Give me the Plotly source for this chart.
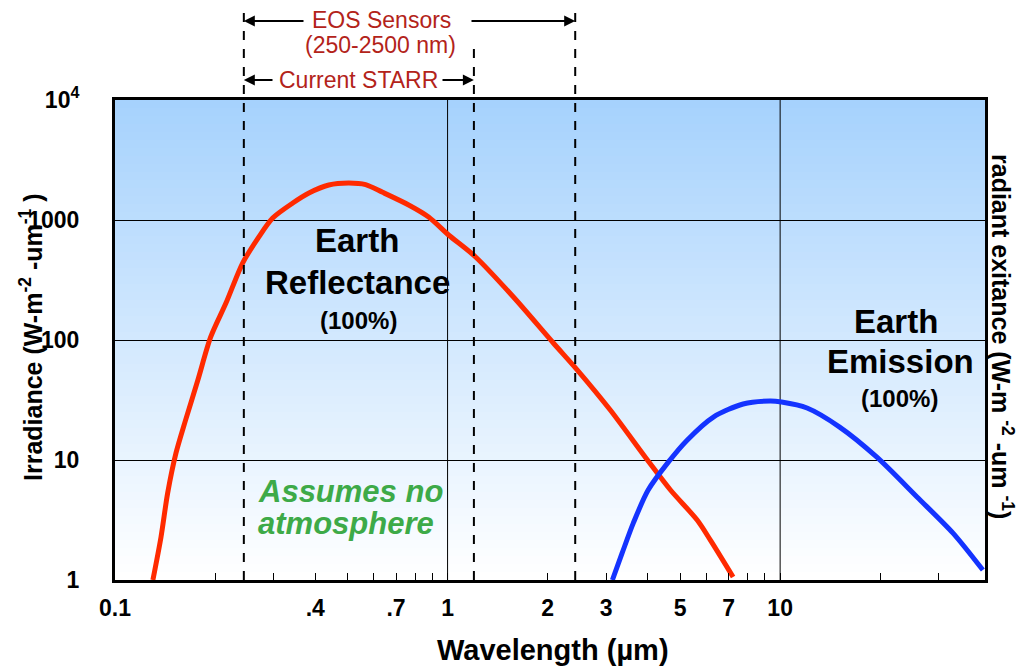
import math
import plotly.graph_objects as go

# ---------------- data ----------------
red_x = [0.130, 0.1375, 0.144, 0.1525, 0.163, 0.1775, 0.194, 0.2156, 0.242, 0.2705,
         0.298, 0.3425, 0.383, 0.4395, 0.504, 0.567, 0.638, 0.764, 0.877, 1.007,
         1.214, 1.578, 2.08, 2.456, 3.085, 3.99, 4.68, 5.63, 6.17, 7.22]
red_y = [1.0, 2.28, 5.31, 11.4, 21.5, 46.4, 106, 203, 438, 721,
         1039, 1386, 1679, 1957, 2033, 1970, 1700, 1334, 1059, 750,
         492, 228, 94.4, 56.2, 26.1, 10, 5.62, 3.16, 2.15, 1.06]

blue_x = [3.13, 3.35, 3.62, 4.01, 4.61, 5.26, 6.30, 7.74, 9.33, 10.1,
          12.05, 15.1, 19.5, 25.8, 33.1, 40.7]
blue_y = [1.0, 1.68, 2.99, 5.62, 9.6, 14.7, 22.8, 29.3, 31.0, 30.4,
          27.1, 18.8, 10.6, 4.92, 2.46, 1.21]

x_tick_vals = [0.1, 0.2, 0.3, 0.4, 0.5, 0.6, 0.7, 0.8, 0.9, 1,
               2, 3, 4, 5, 6, 7, 8, 9, 10, 20, 30]
x_tick_text = ["0.1", "", "", ".4", "", "", ".7", "", "", "1",
               "2", "3", "", "5", "", "7", "", "", "10", "", ""]
y_tick_vals = [1, 10, 100, 1000, 10000]
y_tick_text = ["1", "10", "100", "1000", "10<sup>4</sup>"]

sensor_lines = [0.244, 1.2, 2.42]     # EOS start, STARR end, EOS end (µm)
grid_x = [1, 10]

x_range_log = [-1, 1.616]
y_range_log = [0, 4]

FONT = "Liberation Sans, Arial, sans-serif"
DARKRED = "#B3231A"

def xp(v):
    return (math.log10(v) - x_range_log[0]) / (x_range_log[1] - x_range_log[0])

fig = go.Figure()

fig.add_trace(go.Scatter(x=red_x, y=red_y, mode="lines",
                         line=dict(color="#FF2A00", width=5, shape="spline", smoothing=0.8),
                         showlegend=False, hoverinfo="skip"))
fig.add_trace(go.Scatter(x=blue_x, y=blue_y, mode="lines",
                         line=dict(color="#1433FF", width=5, shape="spline", smoothing=0.8),
                         showlegend=False, hoverinfo="skip"))

shapes = []
# vertical gradient background
n = 60
top = (166, 210, 253)
bot = (255, 255, 255)
for i in range(n):
    t = i / (n - 1)
    c = tuple(round(top[k] + (bot[k] - top[k]) * t) for k in range(3))
    shapes.append(dict(type="rect", xref="paper", yref="paper",
                       x0=0, x1=1, y1=1 - i / n, y0=1 - (i + 1) / n - 0.002,
                       fillcolor="rgb(%d,%d,%d)" % c, line=dict(width=0), layer="below"))
# vertical grid lines
for g in grid_x:
    shapes.append(dict(type="line", xref="x", yref="paper", x0=g, x1=g, y0=0, y1=1,
                       line=dict(color="black", width=1), layer="below"))
# dashed sensor lines
tops = [1.1917, 1.108, 1.1917]
for v, t in zip(sensor_lines, tops):
    shapes.append(dict(type="line", xref="paper", yref="paper", x0=xp(v), x1=xp(v),
                       y0=0, y1=t, line=dict(color="black", width=2, dash="dash"),
                       layer="above"))

annotations = []
def arrow(head_x, tail_x, ypaper):
    # positions given in paper coordinates; ax offset in pixels
    return dict(xref="paper", yref="paper", x=head_x, y=ypaper, text="",
                showarrow=True, arrowhead=2, arrowsize=1.1, arrowwidth=2,
                arrowcolor="black", ax=(tail_x - head_x) * 870, ay=0)

y_eos = (580 - 21) / 480
y_starr = (580 - 80) / 480
annotations.append(arrow(xp(sensor_lines[0]), (305 - 115) / 870, y_eos))
annotations.append(arrow(xp(sensor_lines[2]), (470 - 115) / 870, y_eos))
annotations.append(arrow(xp(sensor_lines[0]), (274 - 115) / 870, y_starr))
annotations.append(arrow(xp(sensor_lines[1]), (441 - 115) / 870, y_starr))

def txt(text, px, py, size, color="black", **kw):
    d = dict(xref="paper", yref="paper", x=(px - 115) / 870, y=(580 - py) / 480,
             text=text, showarrow=False, xanchor="center", yanchor="middle",
             font=dict(family=FONT, size=size, color=color))
    d.update(kw)
    return d

annotations.append(txt("EOS Sensors", 381, 20, 23, DARKRED))
annotations.append(txt("(250-2500 nm)", 380, 45, 23, DARKRED))
annotations.append(txt("Current STARR", 358, 80, 23, DARKRED))

annotations.append(txt("<b>Earth</b>", 357, 241, 33))
annotations.append(txt("<b>Reflectance</b>", 357, 282, 33))
annotations.append(txt("<b>(100%)</b>", 358, 320, 24))
annotations.append(txt("<b>Earth</b>", 896, 321, 33))
annotations.append(txt("<b>Emission</b>", 900, 361, 33))
annotations.append(txt("<b>(100%)</b>", 899, 398, 24))
annotations.append(txt("<b><i>Assumes no</i></b>", 350, 491, 31, "#3DAA48"))
annotations.append(txt("<b><i>atmosphere</i></b>", 346, 523, 31, "#3DAA48"))

annotations.append(txt("<b>Wavelength (µm)</b>", 553, 650, 29))
annotations.append(txt("<b>Irradiance (W-m<sup>-2</sup> -um<sup>-1</sup> )</b>", 31, 337, 25,
                       textangle=-90))
annotations.append(txt("<b>radiant exitance (W-m <sup>-2</sup> -um <sup>-1</sup>)</b>", 1002, 336, 25,
                       textangle=90))

fig.update_layout(
    width=1022, height=666,
    margin=dict(l=115, r=37, t=100, b=86),
    paper_bgcolor="white", plot_bgcolor="white",
    font=dict(family=FONT, color="black"),
    shapes=shapes, annotations=annotations,
    xaxis=dict(type="log", range=x_range_log, tickvals=x_tick_vals, ticktext=x_tick_text,
               ticks="inside", ticklen=7, tickwidth=1, tickcolor="black",
               showgrid=False, zeroline=False, showline=True, mirror=True,
               linecolor="black", linewidth=3,
               tickfont=dict(family=FONT, size=23, color="black", weight="bold"),
               ticklabelstandoff=5),
    yaxis=dict(type="log", range=y_range_log, tickvals=y_tick_vals, ticktext=y_tick_text,
               ticks="", showgrid=True, gridcolor="black", gridwidth=1,
               zeroline=False, showline=True, mirror=True, linecolor="black", linewidth=3,
               tickfont=dict(family=FONT, size=23, color="black", weight="bold"),
               ticklabelstandoff=28),
)

fig.write_html("out.html")
